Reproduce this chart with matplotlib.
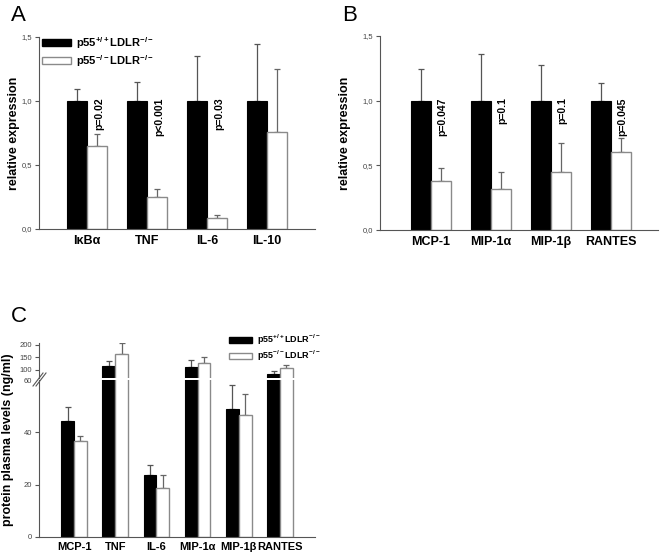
import matplotlib
matplotlib.use("Agg")
import matplotlib.pyplot as plt
from matplotlib.patches import Patch
from matplotlib.lines import Line2D
import numpy as np

plt.rcParams['font.family'] = ['Liberation Sans', 'DejaVu Sans']
plt.rcParams['mathtext.fontset'] = 'custom'
plt.rcParams['mathtext.rm'] = 'Liberation Sans:bold'
plt.rcParams['mathtext.bf'] = 'Liberation Sans:bold'
plt.rcParams['mathtext.default'] = 'rm'

# Panel A - relative expression (mRNA)
genes_a = ['I\u03baB\u03b1', 'TNF', 'IL-6', 'IL-10']
wt_a = [1.0, 1.0, 1.0, 1.0]
wt_a_err = [0.096, 0.152, 0.351, 0.444]
ko_a = [0.649, 0.253, 0.088, 0.757]
ko_a_err = [0.095, 0.060, 0.023, 0.493]
pvals_a = ['p=0.02', 'p<0.001', 'p=0.03', '']

# Panel B - relative expression (chemokines)
genes_b = ['MCP-1', 'MIP-1\u03b1', 'MIP-1\u03b2', 'RANTES']
wt_b = [1.0, 1.0, 1.0, 1.0]
wt_b_err = [0.242, 0.360, 0.276, 0.134]
ko_b = [0.381, 0.320, 0.446, 0.600]
ko_b_err = [0.096, 0.126, 0.229, 0.114]
pvals_b = ['p=0.047', 'p=0.1', 'p=0.1', 'p=0.045']

# Panel C - protein plasma levels (ng/ml)
proteins_c = ['MCP-1', 'TNF', 'IL-6', 'MIP-1\u03b1', 'MIP-1\u03b2', 'RANTES']
wt_c = [44.3, 115, 23.5, 112, 49.0, 82.5]
wt_c_err = [5.4, 19, 3.9, 27, 9.0, 12.2]
ko_c = [36.5, 162.6, 18.5, 126, 46.6, 105.7]
ko_c_err = [2.0, 44.4, 5.0, 24, 8.0, 12.3]

LABEL_WT = r'p55$^{+/+}$LDLR$^{-/-}$'
LABEL_KO = r'p55$^{-/-}$LDLR$^{-/-}$'

W, H = 661, 555
AXCOL = '#555555'


def px(x, y):
    return x / W, 1 - y / H


def style_axis(ax, bottom=True, xsize=9):
    ax.spines['top'].set_visible(False)
    ax.spines['right'].set_visible(False)
    ax.spines['left'].set_color(AXCOL)
    ax.spines['bottom'].set_color(AXCOL)
    ax.spines['bottom'].set_visible(bottom)
    ax.tick_params(axis='y', direction='out', length=3, width=0.8,
                   color=AXCOL, labelcolor='#444444', labelsize=5.5, pad=2)
    ax.tick_params(axis='x', length=0, labelsize=xsize, pad=4)


def draw_bars(ax, x, wt, wt_err, ko, ko_err, w):
    x = np.asarray(x, dtype=float)
    ax.bar(x - w / 2, wt, w, color='black', edgecolor='black', linewidth=0.8, zorder=2)
    ax.bar(x + w / 2, ko, w, color='white', edgecolor='#8a8a8a', linewidth=1.0, zorder=2)
    z = np.zeros(len(x))
    ax.errorbar(x - w / 2, wt, yerr=[z, wt_err], fmt='none', ecolor='#555555',
                elinewidth=0.9, capsize=2, capthick=0.9, zorder=1)
    ax.errorbar(x + w / 2, ko, yerr=[z, ko_err], fmt='none', ecolor='#666666',
                elinewidth=0.9, capsize=2, capthick=0.9, zorder=1)


fig = plt.figure(figsize=(W / 100, H / 100), dpi=100)

# ---- Panel A ----
axA = fig.add_axes([39 / W, 1 - 229 / H, 276 / W, 192 / H])
xa = np.arange(len(genes_a))
wa = 0.333
draw_bars(axA, xa, wt_a, wt_a_err, ko_a, ko_a_err, wa)
axA.set_xlim(-0.8, 3.8)
axA.set_ylim(0, 1.5)
axA.set_yticks([0, 0.5, 1.0, 1.5])
axA.set_yticklabels(['0,0', '0,5', '1,0', '1,5'])
axA.set_xticks(xa)
axA.set_xticklabels(genes_a, fontweight='bold')
style_axis(axA)
for xi, p in zip(xa, pvals_a):
    if p:
        axA.text(xi + wa / 2 + 0.04, 1.025, p, rotation=90, ha='center', va='top',
                 fontsize=7.5, fontweight='bold')

# ---- Panel B ----
axB = fig.add_axes([380 / W, 1 - 230 / H, 278 / W, 194 / H])
xb = np.arange(len(genes_b))
draw_bars(axB, xb, wt_b, wt_b_err, ko_b, ko_b_err, wa)
axB.set_xlim(-0.85, 3.78)
axB.set_ylim(0, 1.5)
axB.set_yticks([0, 0.5, 1.0, 1.5])
axB.set_yticklabels(['0,0', '0,5', '1,0', '1,5'])
axB.set_xticks(xb)
axB.set_xticklabels(genes_b, fontweight='bold')
style_axis(axB)
for xi, p in zip(xb, pvals_b):
    axB.text(xi + wa / 2 + 0.02, 1.025, p, rotation=90, ha='center', va='top',
             fontsize=7.5, fontweight='bold')

# ---- Panel C (broken axis) ----
axC = fig.add_axes([39 / W, 1 - 536.7 / H, 276 / W, (536.7 - 380.1) / H])
axCt = fig.add_axes([39 / W, 1 - 378.3 / H, 276 / W, (378.3 - 342.5) / H])
xc = np.arange(len(proteins_c))
wc = 0.31
for ax in (axC, axCt):
    draw_bars(ax, xc, wt_c, wt_c_err, ko_c, ko_c_err, wc)
    ax.set_xlim(-0.85, 5.85)
axC.set_ylim(0, 60)
axCt.set_ylim(65, 210)
axC.set_yticks([0, 20, 40, 60])
axCt.set_yticks([100, 150, 200])
axC.set_xticks(xc)
axC.set_xticklabels(proteins_c, fontweight='bold')
axCt.set_xticks([])
style_axis(axC, xsize=8)
style_axis(axCt, bottom=False)
axC.yaxis.get_major_ticks()[-1].tick1line.set_visible(False)

# break marks on the y axis
for dx in (0, 3):
    x0, y0 = px(33 + dx, 386)
    x1, y1 = px(43 + dx, 373)
    fig.add_artist(Line2D([x0, x1], [y0, y1], color=AXCOL, lw=0.8))

# legends
handles = [Patch(facecolor='black', edgecolor='black'),
           Patch(facecolor='white', edgecolor='#8a8a8a')]
fig.legend(handles, [LABEL_WT, LABEL_KO], loc='upper left', bbox_to_anchor=px(42, 35),
           frameon=False, prop={'weight': 'bold', 'size': 8}, handlelength=2.6,
           handleheight=0.6, handletextpad=0.5, labelspacing=0.2, borderpad=0,
           borderaxespad=0)
fig.legend(handles, [LABEL_WT, LABEL_KO], loc='upper left', bbox_to_anchor=px(229, 333),
           frameon=False, prop={'weight': 'bold', 'size': 6.5}, handlelength=2.6,
           handleheight=0.6, handletextpad=0.5, labelspacing=0.15, borderpad=0,
           borderaxespad=0)

# axis titles and panel letters
fig.text(*px(14, 133), 'relative expression', rotation=90, ha='center', va='center',
         fontsize=9, fontweight='bold')
fig.text(*px(345, 133), 'relative expression', rotation=90, ha='center', va='center',
         fontsize=9, fontweight='bold')
fig.text(*px(8, 440), 'protein plasma levels (ng/ml)', rotation=90, ha='center',
         va='center', fontsize=9, fontweight='bold')
fig.text(*px(11, 5), 'A', fontsize=16, va='top', ha='left')
fig.text(*px(342, 5), 'B', fontsize=16, va='top', ha='left')
fig.text(*px(11, 306), 'C', fontsize=16, va='top', ha='left')

fig.savefig('out.png', dpi=100)
